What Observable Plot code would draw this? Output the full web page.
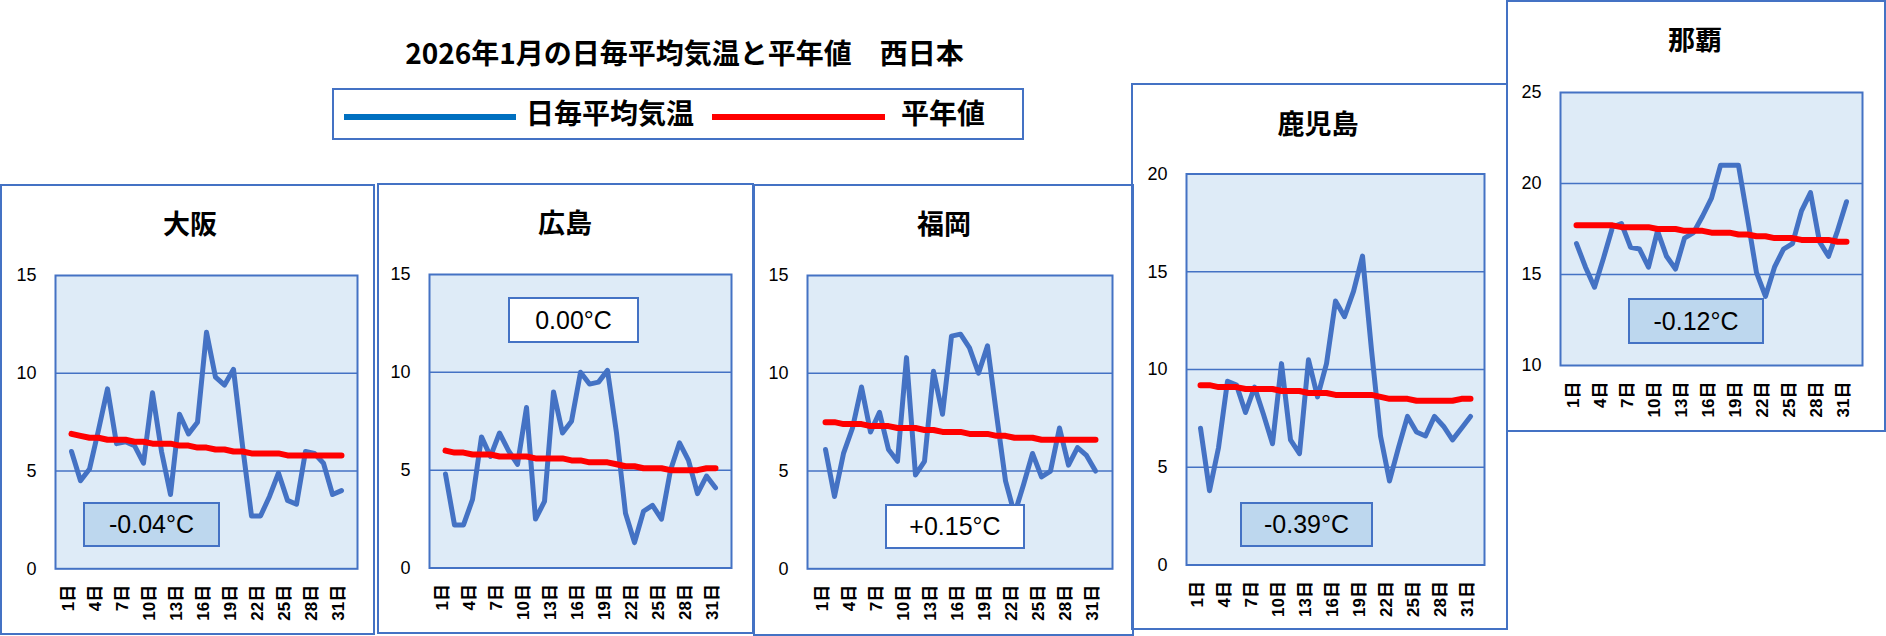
<!DOCTYPE html>
<html>
<head>
<meta charset="utf-8">
<script src="https://cdn.jsdelivr.net/npm/d3@7"></script>
<script src="https://cdn.jsdelivr.net/npm/@observablehq/plot@0.6"></script>
<style>
  body { margin: 0; background: #fff; }
  #page { position: relative; width: 1886px; height: 636px; overflow: hidden; background: #fff;
          font-family: "Noto Sans CJK JP", "Liberation Sans", sans-serif; color: #000; }
  .abs { position: absolute; }
  .panel { position: absolute; border: 2px solid #4472C4; box-sizing: border-box; }
  .center { display: flex; align-items: center; justify-content: center; white-space: nowrap; }
  .title { font-size: 28px; font-weight: bold; }
  .station { font-size: 27px; font-weight: bold; }
  .note { border: 2px solid #4472C4; box-sizing: border-box; font-family: "Liberation Sans", "Noto Sans CJK JP", sans-serif; font-size: 25px; }
  .legend-text { font-size: 28px; font-weight: bold; }
</style>
</head>
<body>
<div id="page"></div>
<script>
// Days of January and the labelled ticks on the category axis
const days = d3.range(1, 32);
const dayTicks = [1, 4, 7, 10, 13, 16, 19, 22, 25, 28, 31];

const chartTitle = "2026年1月の日毎平均気温と平年値\u3000西日本";
const seriesNames = ["日毎平均気温", "平年値"];
const stationNames = ["大阪", "広島", "福岡", "鹿児島", "那覇"];

// Daily mean temperature (°C) and the climatological normal for each station
const osakaDaily = [6.0, 4.5, 5.1, 7.1, 9.2, 6.4, 6.5, 6.3, 5.4, 9.0, 6.0, 3.8, 7.9, 6.9, 7.5, 12.1, 9.8, 9.4, 10.2, 6.3, 2.7, 2.7, 3.7, 4.9, 3.5, 3.3, 6.0, 5.9, 5.4, 3.8, 4.0];
const osakaNormal = [6.9, 6.8, 6.7, 6.7, 6.6, 6.6, 6.6, 6.5, 6.5, 6.4, 6.4, 6.4, 6.3, 6.3, 6.2, 6.2, 6.1, 6.1, 6.0, 6.0, 5.9, 5.9, 5.9, 5.9, 5.8, 5.8, 5.8, 5.8, 5.8, 5.8, 5.8];

const hiroshimaDaily = [4.8, 2.2, 2.2, 3.5, 6.7, 5.7, 6.9, 6.0, 5.3, 8.2, 2.5, 3.4, 9.0, 6.9, 7.5, 10.0, 9.4, 9.5, 10.1, 6.9, 2.8, 1.3, 2.9, 3.2, 2.5, 5.0, 6.4, 5.5, 3.8, 4.7, 4.1];
const hiroshimaNormal = [6.0, 5.9, 5.9, 5.8, 5.8, 5.8, 5.7, 5.7, 5.7, 5.7, 5.6, 5.6, 5.6, 5.6, 5.5, 5.5, 5.4, 5.4, 5.4, 5.3, 5.2, 5.2, 5.1, 5.1, 5.1, 5.0, 5.0, 5.0, 5.0, 5.1, 5.1];

const fukuokaDaily = [6.1, 3.7, 5.9, 7.2, 9.3, 7.0, 8.0, 6.1, 5.5, 10.8, 4.8, 5.5, 10.1, 7.9, 11.9, 12.0, 11.3, 10.0, 11.4, 7.9, 4.5, 2.8, 4.3, 5.9, 4.7, 5.0, 7.2, 5.3, 6.2, 5.8, 5.0];
const fukuokaNormal = [7.5, 7.5, 7.4, 7.4, 7.4, 7.3, 7.3, 7.3, 7.2, 7.2, 7.2, 7.1, 7.1, 7.0, 7.0, 7.0, 6.9, 6.9, 6.9, 6.8, 6.8, 6.7, 6.7, 6.7, 6.6, 6.6, 6.6, 6.6, 6.6, 6.6, 6.6];

const kagoshimaDaily = [7.0, 3.8, 6.0, 9.4, 9.2, 7.8, 9.1, 7.7, 6.2, 10.3, 6.4, 5.7, 10.5, 8.6, 10.3, 13.5, 12.7, 14.0, 15.8, 11.0, 6.6, 4.3, 6.0, 7.6, 6.8, 6.6, 7.6, 7.1, 6.4, 7.0, 7.6];
const kagoshimaNormal = [9.2, 9.2, 9.1, 9.1, 9.1, 9.0, 9.0, 9.0, 9.0, 8.9, 8.9, 8.9, 8.8, 8.8, 8.8, 8.7, 8.7, 8.7, 8.7, 8.7, 8.6, 8.5, 8.5, 8.5, 8.4, 8.4, 8.4, 8.4, 8.4, 8.5, 8.5];

const nahaDaily = [16.7, 15.4, 14.3, 15.9, 17.6, 17.8, 16.5, 16.4, 15.4, 17.4, 16.0, 15.3, 17.0, 17.3, 18.2, 19.2, 21.0, 21.0, 21.0, 18.1, 15.1, 13.8, 15.4, 16.4, 16.7, 18.5, 19.5, 16.8, 16.0, 17.4, 19.0];
const nahaNormal = [17.7, 17.7, 17.7, 17.7, 17.7, 17.6, 17.6, 17.6, 17.6, 17.5, 17.5, 17.5, 17.4, 17.4, 17.4, 17.3, 17.3, 17.3, 17.2, 17.2, 17.1, 17.1, 17.0, 17.0, 17.0, 16.9, 16.9, 16.9, 16.9, 16.8, 16.8];

// Value-axis tick labels per station
const osakaTicks = [0, 5, 10, 15];
const hiroshimaTicks = [0, 5, 10, 15];
const fukuokaTicks = [0, 5, 10, 15];
const kagoshimaTicks = [0, 5, 10, 15, 20];
const nahaTicks = [10, 15, 20, 25];

// Monthly mean departure from normal
const anomalyLabels = ["-0.04°C", "0.00°C", "+0.15°C", "-0.39°C", "-0.12°C"];

const dailySeries = [osakaDaily, hiroshimaDaily, fukuokaDaily, kagoshimaDaily, nahaDaily];
const normalSeries = [osakaNormal, hiroshimaNormal, fukuokaNormal, kagoshimaNormal, nahaNormal];
const tickSets = [osakaTicks, hiroshimaTicks, fukuokaTicks, kagoshimaTicks, nahaTicks];

// Page layout: panel frame, plot area, title centre and note box for each station
const layout = [
  { box: [1, 185, 374, 634], plot: [55, 357, 275, 568.3], head: [190, 224], note: [83, 502, 137, 45], noteFill: "#BDD7EE" },
  { box: [378, 184, 753, 633], plot: [429, 731, 274, 567.5], head: [565, 223], note: [508, 297, 131, 46], noteFill: "#FFFFFF" },
  { box: [754, 185, 1133, 635], plot: [807, 1112, 275, 568.3], head: [944, 224], note: [885, 504, 140, 45], noteFill: "#FFFFFF" },
  { box: [1132, 84, 1507, 629], plot: [1186, 1484, 173.5, 564.5], head: [1318, 124], note: [1240, 502, 133, 45], noteFill: "#BDD7EE" },
  { box: [1507, 1, 1885, 431], plot: [1560, 1862, 92, 365], head: [1695, 40], note: [1628, 298, 136, 46], noteFill: "#BDD7EE" }
];

const page = document.getElementById("page");

function addDiv(cls, css, text) {
  const d = document.createElement("div");
  d.className = cls;
  Object.assign(d.style, css);
  if (text != null) d.textContent = text;
  page.appendChild(d);
  return d;
}

const numFont = '"Liberation Sans", "Noto Sans CJK JP", sans-serif';

stationNames.forEach((name, i) => {
  const L = layout[i];
  const [x0, y0, x1, y1] = L.box;
  const [pl, pr, pt, pb] = L.plot;
  const ticks = tickSets[i];
  const rows = days.map((d, k) => ({ day: d, daily: dailySeries[i][k], normal: normalSeries[i][k] }));
  const inner = ticks.slice(1, -1);

  const svg = Plot.plot({
    width: x1 - x0,
    height: y1 - y0,
    marginLeft: pl - x0,
    marginRight: x1 - pr,
    marginTop: pt - y0,
    marginBottom: y1 - pb,
    style: { background: "transparent", overflow: "visible", maxWidth: "none", fontFamily: numFont, fontSize: "18px", color: "#000" },
    x: { type: "point", domain: days, padding: 0.5, axis: null },
    y: { domain: [ticks[0], ticks[ticks.length - 1]], axis: null },
    marks: [
      Plot.frame({ fill: "#DEEBF7" }),
      Plot.ruleY(inner, { stroke: "#4472C4", strokeWidth: 1.5 }),
      // value labels left of the plot area
      Plot.text(ticks, { y: d => d, frameAnchor: "left", textAnchor: "end", dx: -19, text: d => String(d), fontSize: 18, fill: "#000" }),
      // day labels, read bottom-to-top, hanging below the plot area
      Plot.text(dayTicks, { x: d => d, frameAnchor: "bottom", rotate: -90, textAnchor: "end", dx: 2, dy: 16, text: d => d + "日", fontSize: 17, fontWeight: "bold", fill: "#000" }),
      Plot.line(rows, { x: "day", y: "daily", stroke: "#4472C4", strokeWidth: 5, strokeLinejoin: "round", strokeLinecap: "round" }),
      Plot.line(rows, { x: "day", y: "normal", stroke: "#FF0000", strokeWidth: 6, strokeLinejoin: "round", strokeLinecap: "round" }),
      Plot.frame({ stroke: "#4472C4", strokeWidth: 2 })
    ]
  });
  svg.style.position = "absolute";
  svg.style.left = x0 + "px";
  svg.style.top = y0 + "px";
  page.appendChild(svg);
});

// Panel frames, station names and departure notes drawn over the plots
stationNames.forEach((name, i) => {
  const L = layout[i];
  const [x0, y0, x1, y1] = L.box;
  addDiv("panel", { left: (x0 - 1) + "px", top: (y0 - 1) + "px", width: (x1 - x0 + 2) + "px", height: (y1 - y0 + 2) + "px" });
  addDiv("abs center station", { left: (L.head[0] - 150) + "px", top: (L.head[1] - 31.5) + "px", width: "300px", height: "60px" }, name);
  const [nx, ny, nw, nh] = L.note;
  addDiv("abs center note", { left: nx + "px", top: ny + "px", width: nw + "px", height: nh + "px", background: L.noteFill }, anomalyLabels[i]);
});

// Chart title and legend
addDiv("abs center title", { left: (684.5 - 400) + "px", top: (53 - 31.5) + "px", width: "800px", height: "60px" }, chartTitle);
addDiv("panel", { left: "332px", top: "88px", width: "692px", height: "52px" });
addDiv("abs", { left: "344px", top: "114px", width: "172px", height: "6px", background: "#0070C0" });
addDiv("abs center legend-text", { left: (610 - 100) + "px", top: (113 - 31.5) + "px", width: "200px", height: "60px" }, seriesNames[0]);
addDiv("abs", { left: "712px", top: "114px", width: "173px", height: "6px", background: "#FF0000" });
addDiv("abs center legend-text", { left: (943 - 80) + "px", top: (113 - 31.5) + "px", width: "160px", height: "60px" }, seriesNames[1]);
</script>
</body>
</html>
